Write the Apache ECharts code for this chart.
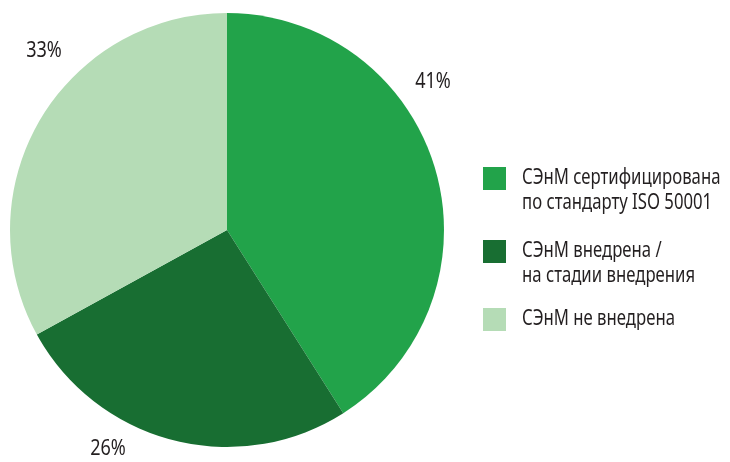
<!DOCTYPE html>
<html><head><meta charset="utf-8">
<script src="https://cdn.jsdelivr.net/npm/echarts@6/dist/echarts.min.js"></script>
<style>html,body{margin:0;padding:0;background:#fff}#c{width:730px;height:462px}</style>
</head><body><div id="c"></div>
<script>
const categories = ["СЭнМ сертифицирована\nпо стандарту ISO 50001", "СЭнМ внедрена /\nна стадии внедрения", "СЭнМ не внедрена"];
const values = [41, 26, 33];
const colors = ["#22a34a", "#186e32", "#b5dcb6"];

// layout (not data)
const labelPos = [[433, 82], [108, 449], [44, 51]];
const legendTop = [167, 240, 308];
const FONT = '"Noto Sans", "DejaVu Sans", sans-serif';
const FS = 22, TEXT = '#231f20';

const graphics = [];
categories.forEach((n, i) => {
  graphics.push({type: 'rect', shape: {x: 483, y: legendTop[i], width: 23, height: 23}, style: {fill: colors[i]}});
  graphics.push({type: 'text', x: 522, y: legendTop[i] - 2, scaleX: 0.76,
    style: {text: n, font: FS + 'px ' + FONT, fill: TEXT, lineHeight: 25, textAlign: 'left', textVerticalAlign: 'top'}});
});
values.forEach((v, i) => {
  graphics.push({type: 'text', x: labelPos[i][0], y: labelPos[i][1], scaleX: 0.82,
    style: {text: v + '%', font: FS + 'px ' + FONT, fill: TEXT, textAlign: 'center', textVerticalAlign: 'middle'}});
});

const chart = echarts.init(document.getElementById('c'), null, {renderer: 'canvas'});
chart.setOption({
  animation: false,
  backgroundColor: '#fff',
  graphic: graphics,
  series: [{
    type: 'pie',
    center: [227, 230],
    radius: [0, 217],
    startAngle: 90,
    clockwise: true,
    data: categories.map((n, i) => ({name: n, value: values[i], itemStyle: {color: colors[i]}})),
    label: {show: false},
    labelLine: {show: false},
    emphasis: {disabled: true}
  }]
});
</script></body></html>
